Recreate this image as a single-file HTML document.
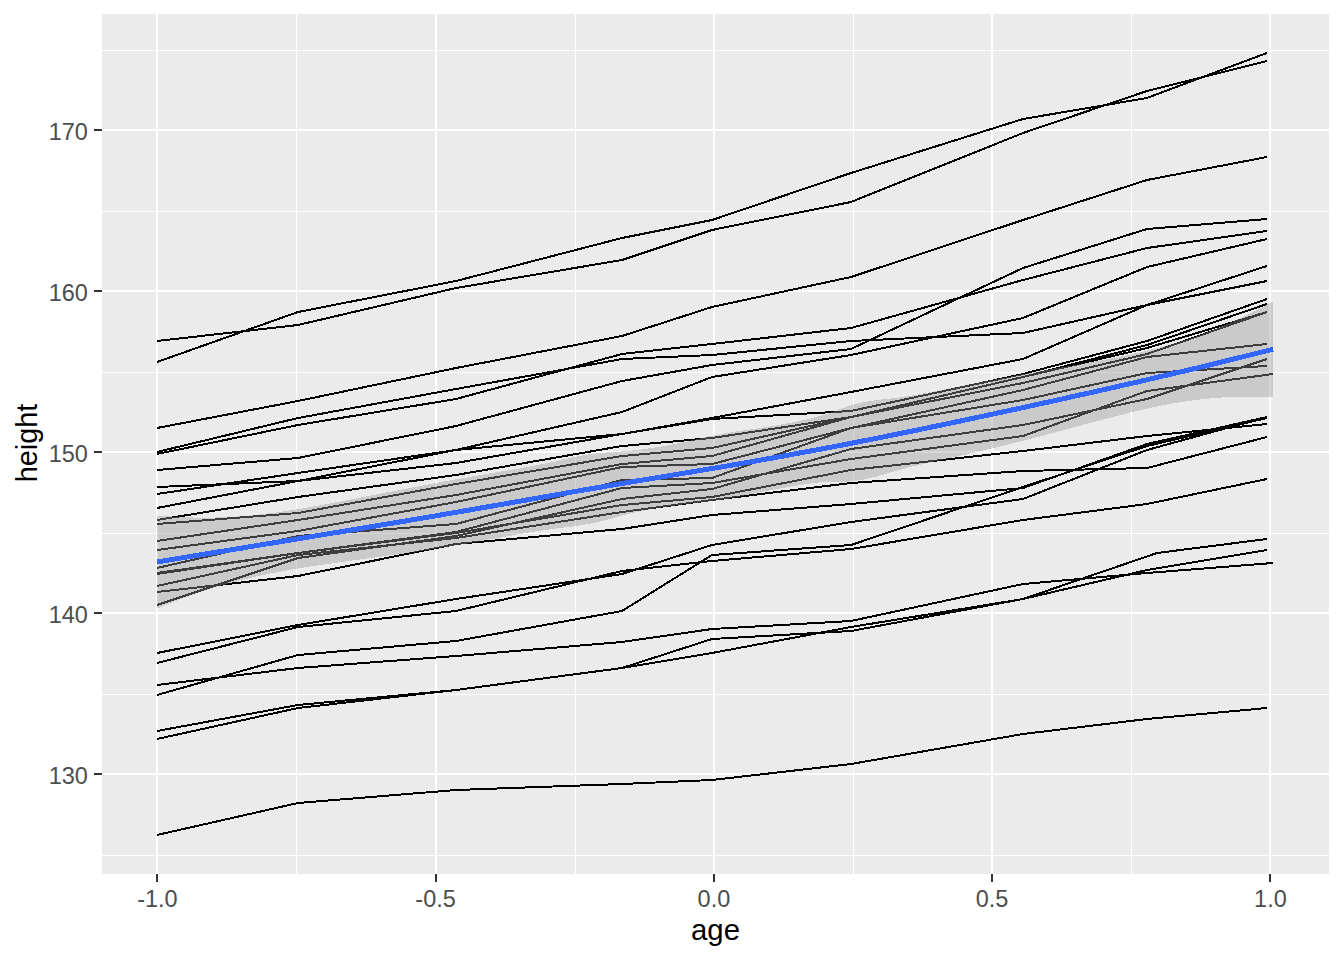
<!DOCTYPE html>
<html><head><meta charset="utf-8"><title>Oxboys height vs age</title>
<style>html,body{margin:0;padding:0;background:#fff;overflow:hidden;}svg{display:block;}</style>
</head><body><svg width="1344" height="960" viewBox="0 0 1344 960"><rect x="102" y="14" width="1227" height="860" fill="#EBEBEB"/><g fill="#FFFFFF" shape-rendering="crispEdges"><rect x="102" y="855" width="1227" height="1"/><rect x="102" y="694" width="1227" height="1"/><rect x="102" y="533" width="1227" height="1"/><rect x="102" y="372" width="1227" height="1"/><rect x="102" y="211" width="1227" height="1"/><rect x="102" y="50" width="1227" height="1"/><rect x="296" y="14" width="1" height="860"/><rect x="575" y="14" width="1" height="860"/><rect x="853" y="14" width="1" height="860"/><rect x="1131" y="14" width="1" height="860"/><rect x="102" y="773" width="1227" height="2"/><rect x="102" y="612" width="1227" height="2"/><rect x="102" y="451" width="1227" height="2"/><rect x="102" y="290" width="1227" height="2"/><rect x="102" y="129" width="1227" height="2"/><rect x="156" y="14" width="2" height="860"/><rect x="435" y="14" width="2" height="860"/><rect x="713" y="14" width="2" height="860"/><rect x="991" y="14" width="2" height="860"/><rect x="1269" y="14" width="2" height="860"/></g><g fill="none" stroke="#000000" stroke-width="2" shape-rendering="crispEdges" stroke-linejoin="round"><polyline points="157,605 298,558 456,536 622,499 712,489 851,449 1023,425 1147,399 1267,359"/><polyline points="157,663 298,627 456,611 622,571 712,561 851,549 1023,520 1147,504 1267,479"/><polyline points="157,452 298,418 456,389 622,359 712,355 851,341 1023,333 1147,305 1267,281"/><polyline points="157,362 298,312 456,281 622,238 712,220 851,173 1023,119 1147,98 1267,53"/><polyline points="157,835 298,803 456,790 622,784 712,780 851,764 1023,734 1147,719 1267,708"/><polyline points="157,341 298,325 456,288 622,260 712,230 851,202 1023,133 1147,91 1267,61"/><polyline points="157,428 298,401 456,368 622,336 712,307 851,277 1023,220 1147,180 1267,157"/><polyline points="157,454 298,425 456,399 622,354 712,344 851,328 1023,280 1147,248 1267,231"/><polyline points="157,470 298,458 456,426 622,381 712,365 851,349 1023,268 1147,229 1267,219"/><polyline points="157,685 298,668 456,656 622,642 712,629 851,621 1023,584 1147,573 1273,563"/><polyline points="157,731 298,705 456,690 622,668 712,639 851,631 1023,599 1157,553 1267,539"/><polyline points="157,739 298,708 456,690 622,668 712,653 851,627 1023,599 1147,570 1267,550"/><polyline points="157,487 298,481 456,450 622,412 712,377 851,355 1023,318 1147,267 1267,239"/><polyline points="157,494 298,473 456,450 622,434 712,418 851,392 1023,359 1147,305 1267,266"/><polyline points="157,508 298,481 456,463 622,434 712,419 851,411 1023,374 1147,341 1267,299"/><polyline points="157,520 298,497 456,475 622,446 712,438 851,417 1023,377 1147,345 1267,304"/><polyline points="157,524 298,513 456,484 622,456 712,448 851,417 1023,377 1147,348 1267,312"/><polyline points="157,541 298,520 456,495 622,464 712,456 851,417 1023,383 1147,354 1267,312"/><polyline points="157,550 298,531 456,502 622,467 712,464 851,428 1023,390 1147,357 1267,344"/><polyline points="157,568 298,536 456,524 622,480 712,478 851,428 1023,400 1147,373 1267,366"/><polyline points="157,573 298,553 456,532 622,488 712,483 851,459 1023,436 1147,391 1273,374"/><polyline points="157,574 298,553 456,533 622,505 712,497 851,470 1023,451 1147,436 1267,424"/><polyline points="157,586 298,555 456,538 622,512 712,500 851,483 1023,471 1147,468 1267,437"/><polyline points="157,592 298,576 456,544 622,529 712,515 851,504 1023,488 1147,444 1267,417"/><polyline points="157,653 298,625 456,599 622,574 712,545 851,522 1023,499 1147,450 1267,417"/><polyline points="157,695 298,655 456,641 622,611 712,555 851,545 1023,487 1147,446 1267,418"/></g><polygon points="157.0,515.4 171.1,516.6 185.3,517.3 199.4,517.7 213.5,517.6 227.6,517.1 241.8,516.2 255.9,514.9 270.0,513.3 284.1,511.3 298.3,509.1 312.4,506.7 326.5,504.1 340.6,501.5 354.8,498.7 368.9,495.9 383.0,493.2 397.2,490.4 411.3,487.7 425.4,485.0 439.5,482.4 453.7,479.8 467.8,477.3 481.9,474.8 496.0,472.4 510.2,470.0 524.3,467.5 538.4,464.9 552.5,462.0 566.7,458.7 580.8,455.7 594.9,453.5 609.1,452.2 623.2,451.4 637.3,450.0 651.4,448.1 665.6,445.7 679.7,443.0 693.8,440.0 707.9,436.6 722.1,433.8 736.2,431.5 750.3,429.5 764.4,427.3 778.6,425.0 792.7,422.3 806.8,419.4 820.9,415.8 835.1,411.1 849.2,405.8 863.3,402.1 877.5,399.9 891.6,398.4 905.7,396.6 919.8,394.2 934.0,391.5 948.1,388.7 962.2,385.9 976.3,383.1 990.5,380.3 1004.6,377.7 1018.7,375.0 1032.8,372.5 1047.0,370.0 1061.1,367.5 1075.2,365.1 1089.4,362.6 1103.5,360.0 1117.6,357.3 1131.7,354.3 1145.9,351.1 1160.0,347.6 1174.1,343.6 1188.2,339.2 1202.4,334.2 1216.5,328.7 1230.6,322.7 1244.7,316.1 1258.9,309.0 1273.0,301.5 1273.0,397.0 1258.9,396.6 1244.7,396.5 1230.6,397.0 1216.5,397.8 1202.4,399.2 1188.2,401.0 1174.1,403.2 1160.0,405.9 1145.9,408.9 1131.7,412.2 1117.6,415.8 1103.5,419.4 1089.4,423.2 1075.2,427.0 1061.1,430.8 1047.0,434.6 1032.8,438.3 1018.7,441.9 1004.6,445.4 990.5,448.8 976.3,452.1 962.2,455.3 948.1,458.4 934.0,461.5 919.8,464.7 905.7,468.2 891.6,472.1 877.5,476.3 863.3,479.6 849.2,481.5 835.1,481.6 820.9,482.3 806.8,484.0 792.7,486.3 778.6,488.7 764.4,491.5 750.3,494.3 736.2,497.2 722.1,499.7 707.9,501.7 693.8,503.2 679.7,504.8 665.6,506.8 651.4,509.1 637.3,511.9 623.2,515.2 609.1,519.2 594.9,522.7 580.8,525.3 566.7,527.2 552.5,529.0 538.4,531.0 524.3,533.3 510.2,535.8 496.0,538.3 481.9,540.8 467.8,543.3 453.7,545.7 439.5,547.9 425.4,550.2 411.3,552.3 397.2,554.3 383.0,556.3 368.9,558.3 354.8,560.2 340.6,562.1 326.5,564.1 312.4,566.2 298.3,568.4 284.1,570.9 270.0,573.6 255.9,576.5 241.8,579.9 227.6,583.6 213.5,587.8 199.4,592.3 185.3,597.3 171.1,602.7 157.0,608.6" fill="#999999" fill-opacity="0.4" shape-rendering="crispEdges"/><polyline points="157.0,562.0 171.1,559.7 185.3,557.3 199.4,555.0 213.5,552.7 227.6,550.4 241.8,548.1 255.9,545.7 270.0,543.4 284.1,541.1 298.3,538.8 312.4,536.5 326.5,534.1 340.6,531.8 354.8,529.5 368.9,527.1 383.0,524.7 397.2,522.4 411.3,520.0 425.4,517.6 439.5,515.2 453.7,512.7 467.8,510.3 481.9,507.8 496.0,505.4 510.2,502.9 524.3,500.4 538.4,497.9 552.5,495.5 566.7,493.0 580.8,490.5 594.9,488.1 609.1,485.7 623.2,483.3 637.3,480.9 651.4,478.6 665.6,476.2 679.7,473.9 693.8,471.6 707.9,469.2 722.1,466.8 736.2,464.4 750.3,461.9 764.4,459.4 778.6,456.9 792.7,454.3 806.8,451.7 820.9,449.1 835.1,446.4 849.2,443.7 863.3,440.9 877.5,438.1 891.6,435.2 905.7,432.4 919.8,429.5 934.0,426.5 948.1,423.6 962.2,420.6 976.3,417.6 990.5,414.6 1004.6,411.5 1018.7,408.5 1032.8,405.4 1047.0,402.3 1061.1,399.2 1075.2,396.0 1089.4,392.9 1103.5,389.7 1117.6,386.5 1131.7,383.3 1145.9,380.0 1160.0,376.7 1174.1,373.4 1188.2,370.1 1202.4,366.7 1216.5,363.3 1230.6,359.8 1244.7,356.3 1258.9,352.8 1273.0,349.2" fill="none" stroke="#3366FF" stroke-width="5" shape-rendering="crispEdges"/><g fill="#333333" shape-rendering="crispEdges"><rect x="94" y="773" width="8" height="2"/><rect x="94" y="612" width="8" height="2"/><rect x="94" y="451" width="8" height="2"/><rect x="94" y="290" width="8" height="2"/><rect x="94" y="129" width="8" height="2"/><rect x="156" y="874" width="2" height="8"/><rect x="435" y="874" width="2" height="8"/><rect x="713" y="874" width="2" height="8"/><rect x="991" y="874" width="2" height="8"/><rect x="1269" y="874" width="2" height="8"/></g><g fill="#4D4D4D" font-family="Liberation Sans, Arial, sans-serif" font-size="23.47"><text x="87.9" y="783.6" text-anchor="end">130</text><text x="87.9" y="622.6" text-anchor="end">140</text><text x="87.9" y="461.6" text-anchor="end">150</text><text x="87.9" y="300.6" text-anchor="end">160</text><text x="87.9" y="139.6" text-anchor="end">170</text><text x="157.4" y="907" text-anchor="middle">-1.0</text><text x="435.6" y="907" text-anchor="middle">-0.5</text><text x="713.9" y="907" text-anchor="middle">0.0</text><text x="992.1" y="907" text-anchor="middle">0.5</text><text x="1270.4" y="907" text-anchor="middle">1.0</text></g><text x="715.5" y="940" text-anchor="middle" font-family="Liberation Sans, Arial, sans-serif" font-size="29.33" fill="#000000">age</text><text transform="translate(37,443) rotate(-90)" text-anchor="middle" font-family="Liberation Sans, Arial, sans-serif" font-size="28.9" fill="#000000">height</text></svg></body></html>
